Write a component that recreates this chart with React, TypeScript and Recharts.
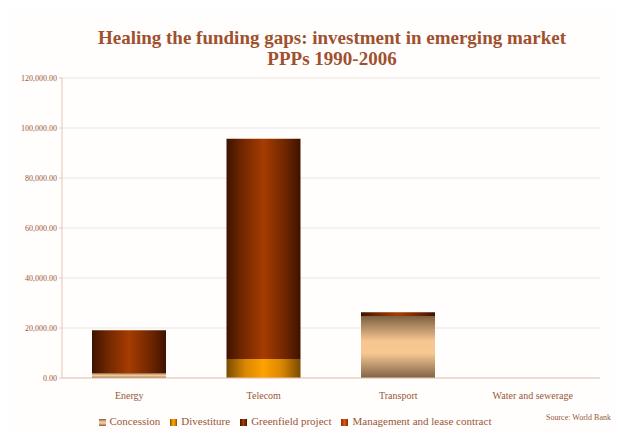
import React from "react";
import { BarChart, Bar, XAxis, YAxis, CartesianGrid, Legend } from "recharts";

const sectors = ["Energy", "Telecom", "Transport", "Water and sewerage"];
const concession = [2000, 0, 24800, 0];
const divestiture = [0, 7600, 0, 0];
const greenfield = [17100, 88100, 1500, 0];
const management = [0, 0, 0, 0];
const yTicks = [0, 20000, 40000, 60000, 80000, 100000, 120000];

const data = sectors.map((name, i) => ({
  name,
  concession: concession[i],
  divestiture: divestiture[i],
  greenfield: greenfield[i],
  management: management[i],
}));

const textColor = "#9a5638";

const fmt = (v: number) =>
  v.toLocaleString("en-US", { minimumFractionDigits: 2, maximumFractionDigits: 2 });

export default function App() {
  return (
    <div
      style={{
        margin: -8,
        width: 624,
        height: 441,
        position: "relative",
        background: "#ebe3d6",
        overflow: "hidden",
        fontFamily: "'Liberation Serif', serif",
      }}
    >
      <div style={{ position: "absolute", left: 4, top: 7, width: 620, height: 434, background: "#fffefd" }} />
      <div
        style={{
          position: "absolute",
          left: 0,
          width: 624,
          top: 27,
          textAlign: "center",
          color: "#a0502e",
          fontWeight: "bold",
          fontSize: 19,
          lineHeight: "21px",
          paddingLeft: 40,
          boxSizing: "border-box",
        }}
      >
        Healing the funding gaps: investment in emerging market
        <br />
        PPPs 1990-2006
      </div>
      <div style={{ position: "absolute", left: 0, top: 0 }}>
        <BarChart
          width={624}
          height={441}
          data={data}
          margin={{ top: 78, right: 24, bottom: 21, left: 0 }}
          barSize={74}
        >
          <defs>
            <linearGradient id="gGreen" x1="0" y1="0" x2="1" y2="0">
              <stop offset="0%" stopColor="#3e1200" />
              <stop offset="20%" stopColor="#6e2600" />
              <stop offset="50%" stopColor="#a63c02" />
              <stop offset="80%" stopColor="#6e2600" />
              <stop offset="100%" stopColor="#3e1200" />
            </linearGradient>
            <linearGradient id="gDiv" x1="0" y1="0" x2="1" y2="0">
              <stop offset="0%" stopColor="#7a4a00" />
              <stop offset="25%" stopColor="#d98600" />
              <stop offset="50%" stopColor="#ffa200" />
              <stop offset="75%" stopColor="#d98600" />
              <stop offset="100%" stopColor="#7a4a00" />
            </linearGradient>
            <linearGradient id="gCon" x1="0" y1="0" x2="0" y2="1">
              <stop offset="0%" stopColor="#7c6040" />
              <stop offset="40%" stopColor="#f6c590" />
              <stop offset="60%" stopColor="#f8c892" />
              <stop offset="100%" stopColor="#806246" />
            </linearGradient>
            <linearGradient id="gMan" x1="0" y1="0" x2="1" y2="0">
              <stop offset="0%" stopColor="#8a2e00" />
              <stop offset="50%" stopColor="#d85a10" />
              <stop offset="100%" stopColor="#8a2e00" />
            </linearGradient>
          </defs>
          <CartesianGrid vertical={false} stroke="#eee6e2" />
          <XAxis
            dataKey="name"
            stroke="#e6c4b6"
            tickLine={false}
            tick={{ fontSize: 10, fill: textColor }}
            tickMargin={8}
          />
          <YAxis
            width={62}
            domain={[0, 120000]}
            ticks={yTicks}
            tickFormatter={fmt}
            stroke="#e6c4b6"
            tickSize={3}
            tick={{ fontSize: 8, fill: textColor }}
          />
          <Legend
            verticalAlign="bottom"
            iconType="square"
            iconSize={7}
            wrapperStyle={{ bottom: 14, fontSize: 11, color: textColor }}
            formatter={(value) => <span style={{ color: textColor }}>{value}</span>}
          />
          <Bar dataKey="concession" name="Concession" stackId="a" fill="url(#gCon)" isAnimationActive={false} />
          <Bar dataKey="divestiture" name="Divestiture" stackId="a" fill="url(#gDiv)" isAnimationActive={false} />
          <Bar dataKey="greenfield" name="Greenfield project" stackId="a" fill="url(#gGreen)" isAnimationActive={false} />
          <Bar dataKey="management" name="Management and lease contract" stackId="a" fill="url(#gMan)" isAnimationActive={false} />
        </BarChart>
      </div>
      <div style={{ position: "absolute", left: 546, top: 413, fontSize: 8, color: textColor, whiteSpace: "nowrap" }}>
        Source: World Bank
      </div>
    </div>
  );
}
